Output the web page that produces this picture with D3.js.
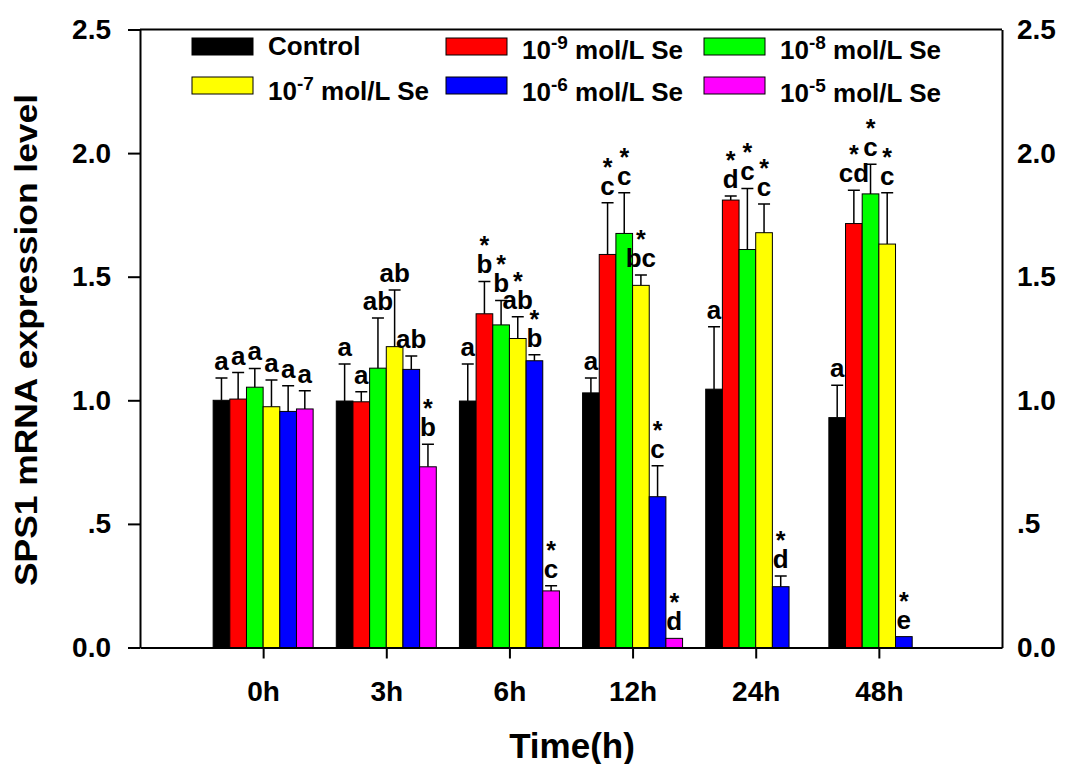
<!DOCTYPE html>
<meta charset="UTF-8">
<style>
body { margin: 0; background: #fff; }
svg text { font-family: "Liberation Sans", Arial, sans-serif; font-weight: bold; fill: #000; }
.axis path, .axis line { stroke: #000; stroke-width: 2px; }
.bar { stroke: #000; stroke-width: 1px; }
.err { stroke: #000; stroke-width: 1.5px; fill: none; }
</style>
<body>
<script src="https://d3js.org/d3.v7.min.js"></script>
<script>

// time points and treatments
var times = ["0h", "3h", "6h", "12h", "24h", "48h"];
var treatments = ["Control", "1e-9", "1e-8", "1e-7", "1e-6", "1e-5"];
var colors = ["#000000", "#ff0000", "#00ff00", "#ffff00", "#0000ff", "#ff00ff"];

// mean expression per treatment (one value per time point), null = no bar
var control = [1.00, 0.997, 0.997, 1.03, 1.045, 0.93];
var se9 = [1.005, 0.994, 1.35, 1.59, 1.81, 1.715];
var se8 = [1.053, 1.13, 1.305, 1.675, 1.61, 1.835];
var se7 = [0.974, 1.217, 1.25, 1.465, 1.678, 1.632];
var se6 = [0.955, 1.125, 1.16, 0.61, 0.246, 0.044];
var se5 = [0.965, 0.731, 0.229, 0.037, null, null];

// error bar length (upper)
var controlErr = [0.09, 0.15, 0.15, 0.06, 0.253, 0.131];
var se9Err = [0.107, 0.041, 0.131, 0.209, 0.016, 0.135];
var se8Err = [0.076, 0.203, 0.099, 0.165, 0.247, 0.12];
var se7Err = [0.108, 0.229, 0.088, 0.042, 0.116, 0.208];
var se6Err = [0.104, 0.054, 0.024, 0.125, 0.043, 0];
var se5Err = [0.074, 0.091, 0.021, 0, null, null];

// significance letters, "*" = different from control
var controlLab = ["a", "a", "a", "a", "a", "a"];
var se9Lab = ["a", "a", "*b", "*c", "*d", "*cd"];
var se8Lab = ["a", "ab", "*b", "*c", "*c", "*c"];
var se7Lab = ["a", "ab", "*ab", "*bc", "*c", "*c"];
var se6Lab = ["a", "ab", "*b", "*c", "*d", "*e"];
var se5Lab = ["a", "*b", "*c", "*d", "", ""];

var yTicks = [0, 0.5, 1.0, 1.5, 2.0, 2.5];

var means = [control, se9, se8, se7, se6, se5];
var errs = [controlErr, se9Err, se8Err, se7Err, se6Err, se5Err];
var labs = [controlLab, se9Lab, se8Lab, se7Lab, se6Lab, se5Lab];

var rows = [];
times.forEach(function(t, i) {
  treatments.forEach(function(s, j) {
    if (means[j][i] == null) return;
    rows.push({time: t, trt: s, color: colors[j], v: means[j][i], e: errs[j][i], lab: labs[j][i]});
  });
});

var W = 1068, H = 764;
var margin = {top: 29.5, right: 66, bottom: 116.5, left: 140};
var width = W - margin.left - margin.right,
    height = H - margin.top - margin.bottom;

var svg = d3.select("body").append("svg")
    .attr("width", W)
    .attr("height", H);

var g = svg.append("g")
    .attr("transform", "translate(" + margin.left + "," + margin.top + ")");

var x0 = d3.scalePoint().domain(times).range([0, width]).padding(1);
var x1 = d3.scaleBand().domain(treatments).range([-50, 50]);
var y = d3.scaleLinear().domain([0, 2.5]).range([height, 0]);

function fmt(d) {
  if (d === 0) return "0.0";
  if (d === 0.5) return ".5";
  return d.toFixed(1);
}

// bars
g.selectAll("rect.bar")
  .data(rows)
  .enter().append("rect")
    .attr("class", "bar")
    .attr("x", function(d) { return x0(d.time) + x1(d.trt); })
    .attr("width", x1.bandwidth())
    .attr("y", function(d) { return y(d.v); })
    .attr("height", function(d) { return height - y(d.v); })
    .style("fill", function(d) { return d.color; });

// error bars
var eb = g.selectAll("g.eb")
  .data(rows.filter(function(d) { return d.e > 0; }))
  .enter().append("g")
    .attr("transform", function(d) { return "translate(" + (x0(d.time) + x1(d.trt) + x1.bandwidth() / 2) + ",0)"; });
eb.append("path")
    .attr("class", "err")
    .attr("d", function(d) {
      return "M0," + y(d.v) + "V" + y(d.v + d.e) + "M-6," + y(d.v + d.e) + "H6";
    });

// letters and stars
var lab = g.selectAll("g.lab")
  .data(rows)
  .enter().append("g")
    .attr("transform", function(d) {
      return "translate(" + (x0(d.time) + x1(d.trt) + x1.bandwidth() / 2) + "," + (y(d.v + d.e) - 8) + ")";
    });
lab.append("text")
    .attr("text-anchor", "middle")
    .style("font-size", "26px")
    .text(function(d) { return d.lab.replace("*", ""); });
lab.filter(function(d) { return d.lab.indexOf("*") === 0; })
  .append("text")
    .attr("text-anchor", "middle")
    .attr("y", -19)
    .style("font-size", "25px")
    .text("*");

// axes
var left = g.append("g").attr("class", "axis")
    .call(d3.axisLeft(y).tickValues(yTicks).tickFormat(fmt).tickSize(12).tickSizeOuter(0).tickPadding(17));
left.selectAll("text").style("font-size", "28px");

var right = g.append("g").attr("class", "axis")
    .attr("transform", "translate(" + width + ",0)")
    .call(d3.axisRight(y).tickValues(yTicks).tickFormat(fmt).tickSize(0).tickPadding(15));
right.selectAll("text").style("font-size", "28px");

var bottom = g.append("g").attr("class", "axis")
    .attr("transform", "translate(0," + height + ")")
    .call(d3.axisBottom(x0).tickSize(11).tickSizeOuter(0).tickPadding(23));
bottom.selectAll("text").style("font-size", "28px");

g.append("line")
    .attr("x1", 0).attr("x2", width).attr("y1", 0).attr("y2", 0)
    .style("stroke", "#000").style("stroke-width", 2);

// titles
svg.append("text")
    .attr("x", margin.left + width / 2 + 1)
    .attr("y", 758)
    .attr("text-anchor", "middle")
    .style("font-size", "35px")
    .text("Time(h)");

svg.append("text")
    .attr("transform", "translate(37,340) rotate(-90)")
    .attr("text-anchor", "middle")
    .attr("textLength", 492)
    .attr("lengthAdjust", "spacingAndGlyphs")
    .style("font-size", "31px")
    .text("SPS1 mRNA expression level");

// legend
var legendNames = ["Control", "10|-9", "10|-8", "10|-7", "10|-6", "10|-5"];
var legendPos = [[192, 38, 55], [446, 38, 59], [704, 38, 59], [192, 77, 100], [446, 77, 101], [704, 77, 102]];

var leg = svg.selectAll("g.leg")
  .data(treatments)
  .enter().append("g")
    .attr("transform", function(d, i) { return "translate(" + legendPos[i][0] + ",0)"; });
leg.append("rect")
    .attr("class", "bar")
    .attr("y", function(d, i) { return legendPos[i][1]; })
    .attr("width", 61)
    .attr("height", 17)
    .style("fill", function(d, i) { return colors[i]; });
var lt = leg.append("text")
    .attr("x", 76)
    .attr("y", function(d, i) { return legendPos[i][2]; })
    .style("font-size", "26px");
lt.each(function(d, i) {
  var t = d3.select(this);
  var parts = legendNames[i].split("|");
  t.append("tspan").text(parts[0]);
  if (parts.length > 1) {
    t.append("tspan").attr("dy", -10).style("font-size", "19px").text(parts[1]);
    t.append("tspan").attr("dy", 10).text(" mol/L Se");
  }
});

</script>
</body>
